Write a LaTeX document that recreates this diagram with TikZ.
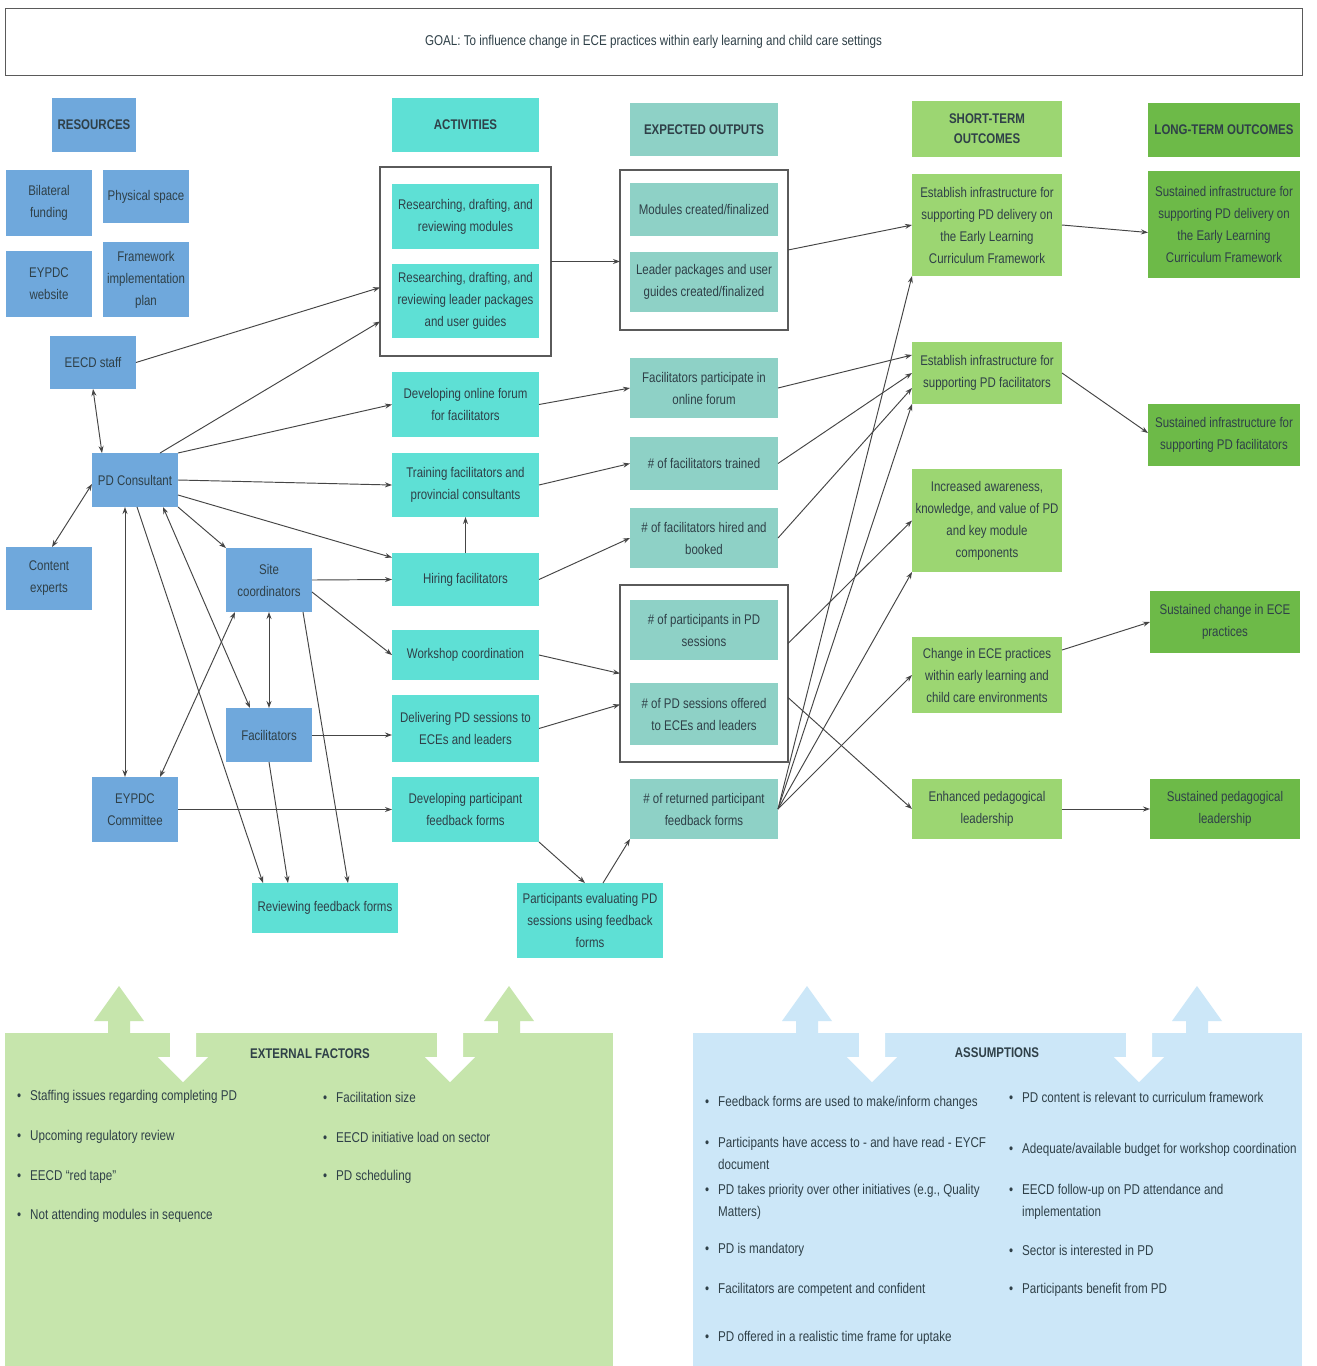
\documentclass[tikz,border=0pt]{standalone}
\usepackage{fontspec}
\setmainfont{Liberation Sans}[FakeStretch=0.82]
\usetikzlibrary{arrows.meta}
\definecolor{cres}{HTML}{6FA8DC}
\definecolor{cact}{HTML}{5EE0D5}
\definecolor{cout}{HTML}{8ED1C6}
\definecolor{cst}{HTML}{9CD672}
\definecolor{clt}{HTML}{6DBA48}
\definecolor{cext}{HTML}{C6E5AC}
\definecolor{casm}{HTML}{CCE7F8}
\definecolor{txt}{HTML}{2F4048}
\definecolor{arrc}{HTML}{454545}
\definecolor{grpc}{HTML}{5A5A5A}
\newcommand\mybox[7]{\node[box,#6,minimum width={#4-#2},minimum height={#5-#3}] (#1) at ({(#2+#4)/2},{(#3+#5)/2}) {#7};}
\newcommand\bitem[4]{\node[bul] (#1) at (#2,#3) {\makebox[13pt][l]{•}#4};}
\begin{document}
\begin{tikzpicture}[x=1pt,y=-1pt,
  box/.style={inner sep=0pt,outer sep=0pt,align=center,text=txt,font=\fontsize{14}{22}\selectfont},
  hdr/.style={font=\fontsize{14}{20}\selectfont\bfseries},
  fres/.style={fill=cres}, fact/.style={fill=cact}, fout/.style={fill=cout},
  fst/.style={fill=cst}, flt/.style={fill=clt},
  grp/.style={draw=grpc,line width=1.3pt,fill=white},
  arr/.style={draw=arrc,line width=0.95pt,-{Stealth[length=7pt,width=5pt]}},
  darr/.style={draw=arrc,line width=0.95pt,{Stealth[length=7pt,width=5pt]}-{Stealth[length=7pt,width=5pt]}},
  bul/.style={inner sep=0pt,anchor=west,align=left,text=txt,font=\fontsize{14.2}{22}\selectfont},
  ttl/.style={inner sep=0pt,text=txt,font=\fontsize{14}{20}\selectfont\bfseries},
]
\useasboundingbox (0,0) rectangle (1317,1366);
\fill[white] (0,0) rectangle (1317,1366);

% goal
\mybox{goal}{5}{8}{1302}{75}{draw=grpc,line width=1pt,font=\fontsize{14.2}{18}\selectfont}{GOAL: To influence change in ECE practices within early learning and child care settings}

% resources
\mybox{hres}{52}{98}{136}{152}{fres,hdr}{RESOURCES}
\mybox{bilat}{6}{170}{92}{236}{fres}{Bilateral\\funding}
\mybox{phys}{103}{170}{189}{223}{fres}{Physical space}
\mybox{web}{6}{251}{92}{317}{fres}{EYPDC\\website}
\mybox{frame}{103}{242}{189}{317}{fres}{Framework\\implementation\\plan}
\mybox{eecd}{50}{336}{136}{389}{fres}{EECD staff}
\mybox{pdc}{92}{453}{178}{507}{fres}{PD Consultant}
\mybox{content}{6}{547}{92}{610}{fres}{Content\\experts}
\mybox{sitec}{226}{548}{312}{612}{fres}{Site\\coordinators}
\mybox{facil}{226}{708}{312}{762}{fres}{Facilitators}
\mybox{eypdc}{92}{777}{178}{842}{fres}{EYPDC\\Committee}
\mybox{review}{252}{883}{398}{933}{fact}{Reviewing feedback forms}

% activities
\mybox{hact}{392}{98}{539}{152}{fact,hdr}{ACTIVITIES}
\mybox{actgrp}{380}{167}{551}{356}{grp}{}
\mybox{resmod}{392}{184}{539}{249}{fact}{Researching, drafting, and\\reviewing modules}
\mybox{respkg}{392}{264}{539}{338}{fact}{Researching, drafting, and\\reviewing leader packages\\and user guides}
\mybox{forum}{392}{372}{539}{437}{fact}{Developing online forum\\for facilitators}
\mybox{train}{392}{453}{539}{517}{fact}{Training facilitators and\\provincial consultants}
\mybox{hire}{392}{553}{539}{606}{fact}{Hiring facilitators}
\mybox{work}{392}{630}{539}{680}{fact}{Workshop coordination}
\mybox{deliv}{392}{695}{539}{762}{fact}{Delivering PD sessions to\\ECEs and leaders}
\mybox{devfb}{392}{777}{539}{842}{fact}{Developing participant\\feedback forms}
\mybox{peval}{517}{883}{663}{958}{fact}{Participants evaluating PD\\sessions using feedback\\forms}

% outputs
\mybox{hout}{630}{103}{778}{156}{fout,hdr}{EXPECTED OUTPUTS}
\mybox{outgrp1}{620}{170}{788}{330}{grp}{}
\mybox{modc}{630}{183}{778}{236}{fout}{Modules created/finalized}
\mybox{pkgc}{630}{252}{778}{312}{fout}{Leader packages and user\\guides created/finalized}
\mybox{fpart}{630}{358}{778}{418}{fout}{Facilitators participate in\\online forum}
\mybox{trained}{630}{437}{778}{490}{fout}{\# of facilitators trained}
\mybox{hired}{630}{508}{778}{568}{fout}{\# of facilitators hired and\\booked}
\mybox{outgrp2}{620}{585}{788}{762}{grp}{}
\mybox{npart}{630}{600}{778}{660}{fout}{\# of participants in PD\\sessions}
\mybox{nsess}{630}{683}{778}{745}{fout}{\# of PD sessions offered\\to ECEs and leaders}
\mybox{ret}{630}{779}{778}{839}{fout}{\# of returned participant\\feedback forms}

% short-term
\mybox{hst}{912}{101}{1062}{157}{fst,hdr}{SHORT-TERM\\OUTCOMES}
\mybox{st1}{912}{174}{1062}{276}{fst}{Establish infrastructure for\\supporting PD delivery on\\the Early Learning\\Curriculum Framework}
\mybox{st2}{912}{342}{1062}{404}{fst}{Establish infrastructure for\\supporting PD facilitators}
\mybox{st3}{912}{469}{1062}{572}{fst}{Increased awareness,\\knowledge, and value of PD\\and key module\\components}
\mybox{st4}{912}{637}{1062}{713}{fst}{Change in ECE practices\\within early learning and\\child care environments}
\mybox{st5}{912}{779}{1062}{839}{fst}{Enhanced pedagogical\\leadership}

% long-term
\mybox{hlt}{1148}{103}{1300}{157}{flt,hdr}{LONG-TERM OUTCOMES}
\mybox{lt1}{1148}{171}{1300}{278}{flt}{Sustained infrastructure for\\supporting PD delivery on\\the Early Learning\\Curriculum Framework}
\mybox{lt2}{1148}{404}{1300}{466}{flt}{Sustained infrastructure for\\supporting PD facilitators}
\mybox{lt3}{1150}{591}{1300}{653}{flt}{Sustained change in ECE\\practices}
\mybox{lt4}{1150}{779}{1300}{839}{flt}{Sustained pedagogical\\leadership}

% connectors left
\draw[arr] (eecd.east) -- ([yshift=-26pt]actgrp.west);
\draw[arr] ([xshift=25pt]pdc.north) -- ([yshift=-60pt]actgrp.west);
\draw[arr] (pdc.north east) -- (forum.west);
\draw[arr] (pdc.east) -- (train.west);
\draw[arr] ([yshift=-15pt]pdc.east) -- ([yshift=22pt]hire.west);
\draw[darr] (eecd.south) -- ([xshift=-33pt]pdc.north);
\draw[darr] ([yshift=-4pt]pdc.west) -- ([xshift=3pt]content.north);
\draw[arr] (pdc.south east) -- (sitec.north west);
\draw[arr] (sitec.east) -- (hire.west);
\draw[arr] ([yshift=-12pt]sitec.east) -- (work.west);
\draw[darr] (sitec.south) -- (facil.north);
\draw[arr] (facil.east) -- (facil.east -| deliv.west);
\draw[arr] (eypdc.east) -- (devfb.west);
\draw[darr] ([xshift=-10pt]pdc.south) -- ([xshift=-10pt]eypdc.north);
\draw[darr] ([xshift=-34pt]sitec.south) -- ([xshift=25pt]eypdc.north);
\draw[darr] ([xshift=28pt]pdc.south) -- ([xshift=-19pt]facil.north);
\draw[arr] ([xshift=2pt]pdc.south) -- ([xshift=-62pt]review.north);
\draw[arr] (facil.south) -- ([xshift=-37pt]review.north);
\draw[arr] ([xshift=34pt]sitec.south) -- ([xshift=23pt]review.north);
\draw[arr] (devfb.south east) -- ([xshift=-5pt]peval.north);
\draw[arr] ([xshift=13pt]peval.north) -- (ret.south west);
\draw[arr] (hire.north) -- (train.south);

% connectors middle
\draw[arr] (actgrp.east) -- (actgrp.east -| outgrp1.west);
\draw[arr] (forum.east) -- (fpart.west);
\draw[arr] (train.east) -- (trained.west);
\draw[arr] (hire.east) -- (hired.west);
\draw[arr] (work.east) -- (outgrp2.west);
\draw[arr] (deliv.east) -- ([yshift=-31pt]outgrp2.west);

% connectors right
\draw[arr] (outgrp1.east) -- (st1.west);
\draw[arr] (fpart.east) -- ([yshift=18pt]st2.west);
\draw[arr] (trained.east) -- (st2.west);
\draw[arr] (hired.east) -- ([yshift=-15pt]st2.west);
\draw[arr] (ret.east) -- (st1.south west);
\draw[arr] (ret.east) -- (st2.south west);
\draw[arr] (ret.east) -- (st3.south west);
\draw[arr] (ret.east) -- (st4.west);
\draw[arr] ([yshift=30pt]outgrp2.east) -- (st3.west);
\draw[arr] ([yshift=-24pt]outgrp2.east) -- (st5.west);
\draw[arr] (st1.east) -- ([yshift=-8pt]lt1.west);
\draw[arr] (st2.east) -- ([yshift=2pt]lt2.west);
\draw[arr] ([yshift=25pt]st4.east) -- (lt3.west);
\draw[arr] (st5.east) -- (lt4.west);

% bottom panels
\fill[cext] (5,1033) rectangle (613,1366);
\fill[casm] (693,1033) rectangle (1302,1366);
\foreach \cx in {119,509}{
  \fill[cext] (\cx-11,1036) -- (\cx-11,1021) -- (\cx-25,1021) -- (\cx,986) -- (\cx+25,1021) -- (\cx+11,1021) -- (\cx+11,1036) -- cycle;}
\foreach \cx in {807,1197}{
  \fill[casm] (\cx-11,1036) -- (\cx-11,1021) -- (\cx-25,1021) -- (\cx,986) -- (\cx+25,1021) -- (\cx+11,1021) -- (\cx+11,1036) -- cycle;}
\foreach \cx in {183,450,872,1139}{
  \fill[white] (\cx-13,1031) -- (\cx-13,1057) -- (\cx-25,1057) -- (\cx,1082) -- (\cx+25,1057) -- (\cx+13,1057) -- (\cx+13,1031) -- cycle;}

\node[ttl] (exttitle) at (310,1054) {EXTERNAL FACTORS};
\bitem{e1}{17}{1097}{Staffing issues regarding completing PD}
\bitem{e2}{17}{1137}{Upcoming regulatory review}
\bitem{e3}{17}{1177}{EECD ``red tape''}
\bitem{e4}{17}{1216}{Not attending modules in sequence}
\bitem{e5}{323}{1097}{Facilitation size}
\bitem{e6}{323}{1137}{EECD initiative load on sector}
\bitem{e7}{323}{1177}{PD scheduling}

\node[ttl] (asmtitle) at (997,1053) {ASSUMPTIONS};
\bitem{a1}{705}{1103}{Feedback forms are used to make/inform changes}
\bitem{a2}{705}{1153}{Participants have access to - and have read - EYCF\\\hspace*{13pt}document}
\bitem{a3}{705}{1202}{PD takes priority over other initiatives (e.g., Quality\\\hspace*{13pt}Matters)}
\bitem{a4}{705}{1250}{PD is mandatory}
\bitem{a5}{705}{1290}{Facilitators are competent and confident}
\bitem{a6}{705}{1338}{PD offered in a realistic time frame for uptake}
\bitem{a7}{1009}{1097}{PD content is relevant to curriculum framework}
\bitem{a8}{1009}{1150}{Adequate/available budget for workshop coordination}
\bitem{a9}{1009}{1202}{EECD follow-up on PD attendance and\\\hspace*{13pt}implementation}
\bitem{a10}{1009}{1250}{Sector is interested in PD}
\bitem{a11}{1009}{1290}{Participants benefit from PD}
\end{tikzpicture}
\end{document}
